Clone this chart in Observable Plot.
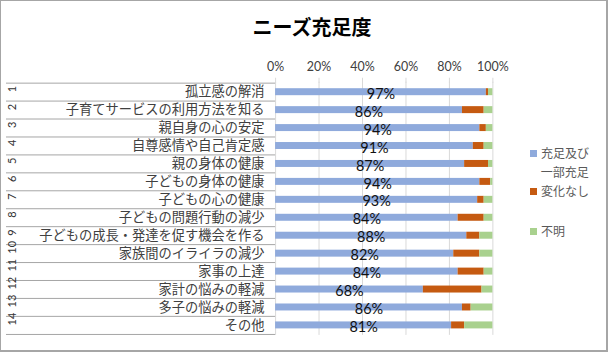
<!DOCTYPE html>
<html><head><meta charset="utf-8">
<script src="https://cdn.jsdelivr.net/npm/d3@7"></script>
<script src="https://cdn.jsdelivr.net/npm/@observablehq/plot@0.6"></script>
<style>
html,body{margin:0;padding:0;background:#fff;}
#wrap{position:relative;width:608px;height:352px;box-sizing:border-box;border:1px solid #a6a6a6;border-right-width:2px;border-bottom-width:2px;overflow:hidden;font-family:'Noto Sans CJK JP',sans-serif;}
#chart{position:absolute;left:-1px;top:-1px;}
#title{position:absolute;left:0;width:622px;top:12px;text-align:center;font-size:20px;font-weight:bold;color:#000;line-height:28px;}
.lg{position:absolute;left:529px;font-size:12px;color:#595959;line-height:19px;}
.sw{display:inline-block;width:7px;height:7px;margin-right:4px;vertical-align:1px;}
</style></head>
<body>
<div id="wrap">
<div id="chart"></div>
<div id="title">ニーズ充足度</div>
<div id="legend"></div>
</div>
<script>
const nums = ["1","2","3","4","5","6","7","8","9","10","11","12","13","14"];
const labels = ["孤立感の解消","子育てサービスの利用方法を知る","親自身の心の安定","自尊感情や自己肯定感","親の身体の健康","子どもの身体の健康","子どもの心の健康","子どもの問題行動の減少","子どもの成長・発達を促す機会を作る","家族間のイライラの減少","家事の上達","家計の悩みの軽減","多子の悩みの軽減","その他"];
const seriesNames = ["充足及び一部充足","変化なし","不明"];
const seriesColors = ["#8FAADC","#C55A11","#A9D18E"];
const satisfied = [97,86,94,91,87,94,93,84,88,82,84,68,86,81];
const unchanged = [1,10,3,5,11,5,3,12,6,12,12,27,4,6];
const unknown = [2,4,3,4,2,1,4,4,6,6,4,5,10,13];
const xTicks = [0,20,40,60,80,100];

const W = 608, H = 352, mL = 276, mR = 114, mT = 82, mB = 16;
const step = (H - mT - mB) / labels.length;
const xEdge = -(mL - 6) / (W - mL - mR) * 100;

const rows = labels.map((l, i) => ({label: l, num: nums[i], full: satisfied[i]}));
const long = [];
labels.forEach((l, i) => {
  [satisfied[i], unchanged[i], unknown[i]].forEach((v, j) => long.push({label: l, series: seriesNames[j], value: v}));
});

const chart = Plot.plot({
  width: W, height: H,
  marginLeft: mL, marginRight: mR, marginTop: mT, marginBottom: mB,
  style: {fontFamily: "'Noto Sans CJK JP', sans-serif", background: "transparent", overflow: "visible"},
  x: {domain: [0, 100], axis: null},
  y: {domain: labels, padding: 0, axis: null},
  color: {domain: seriesNames, range: seriesColors},
  marks: [
    Plot.gridX(xTicks, {stroke: "#d9d9d9", strokeOpacity: 1}),
    Plot.axisX(xTicks, {anchor: "top", label: null, tickSize: 5, tickPadding: 6, stroke: "#d9d9d9", strokeOpacity: 1, fill: "#404040", fontSize: 12.5, fontFamily: "Lato, sans-serif", tickFormat: d => d + "%"}),
    Plot.ruleY(labels, {y: d => d, dy: -step / 2, x1: xEdge, x2: 0, stroke: "#a6a6a6", strokeWidth: 1}),
    Plot.ruleY([labels[labels.length - 1]], {y: d => d, dy: step / 2, x1: xEdge, x2: 0, stroke: "#a6a6a6", strokeWidth: 1}),
    Plot.axisY({anchor: "left", label: null, tickSize: 0, tickPadding: 11, fontSize: 13.3, fill: "#404040"}),
    Plot.text(rows, {y: "label", text: "num", frameAnchor: "left", dx: -(mL - 12), rotate: -90, fontSize: 11, fill: "#333", fontFamily: "Lato, sans-serif"}),
    Plot.barX(long, Plot.stackX({x: "value", y: "label", fill: "series", insetTop: 5.5, insetBottom: 5.5})),
    Plot.text(rows, {x: d => d.full / 2, y: "label", text: d => d.full + "%", fontSize: 14.5, dy: 2, fill: "#111", fontFamily: "Lato, sans-serif"})
  ]
});
document.getElementById("chart").appendChild(chart);

const legend = document.getElementById("legend");
const items = [
  {html: "充足及び<br>&nbsp;&nbsp;&nbsp;&nbsp;一部充足", c: seriesColors[0], top: 142},
  {html: seriesNames[1], c: seriesColors[1], top: 180},
  {html: seriesNames[2], c: seriesColors[2], top: 220}
];
items.forEach(it => {
  const d = document.createElement("div");
  d.className = "lg";
  d.style.top = it.top + "px";
  d.innerHTML = `<span class="sw" style="background:${it.c}"></span>${it.html}`;
  legend.appendChild(d);
});
</script>
</body></html>
